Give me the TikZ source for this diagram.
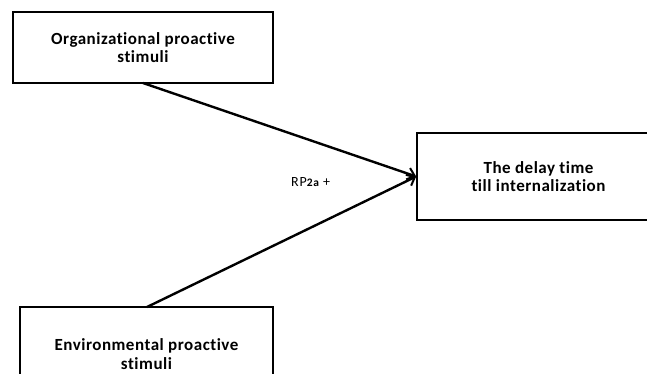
\documentclass[tikz,border=0pt]{standalone}
\usepackage{fontspec}
\setmainfont{Carlito}
\newfontfamily\boxfont[LetterSpace=3,Ligatures=CommonOff]{Carlito}
\newfontfamily\labelfont[LetterSpace=6,Ligatures=CommonOff]{Carlito}
\usetikzlibrary{arrows.meta}
\begin{document}
\begin{tikzpicture}[x=1pt,y=-1pt,
  box/.style={draw=black,line width=1.6pt,align=center,inner sep=0pt,
    font=\boxfont\fontsize{17}{18.5}\selectfont\bfseries},
  link/.style={line width=2.4pt,-{Straight Barb[length=7pt,width=12pt,line width=2pt]}}]
\useasboundingbox (0,0) rectangle (647,373);
\clip (0,0) rectangle (647,373);
% source and target boxes (two of them run past the page edge)
\node[box,minimum width=260pt,minimum height=71pt] (org) at (143,47.5)
  {Organizational proactive\\stimuli};
\node[box,minimum width=253pt,minimum height=94pt] (env) at (146.5,354)
  {Environmental proactive\\stimuli};
\node[box,minimum width=243pt,minimum height=87pt] (delay) at (538.5,176.5)
  {The delay time\\till internalization};
% connectors converging on the target
\coordinate (orgout) at (143,83);
\coordinate (envout) at (147,307);
\draw[link] (orgout) -- (delay.west);
\draw[link] (envout) -- (delay.west);
\node[font=\labelfont\fontsize{14}{16}\selectfont,anchor=west,inner sep=0pt] (rp) at (291,182)
  {RP{\fontsize{11.5}{13}\selectfont\bfseries 2a} +};
\end{tikzpicture}
\end{document}
